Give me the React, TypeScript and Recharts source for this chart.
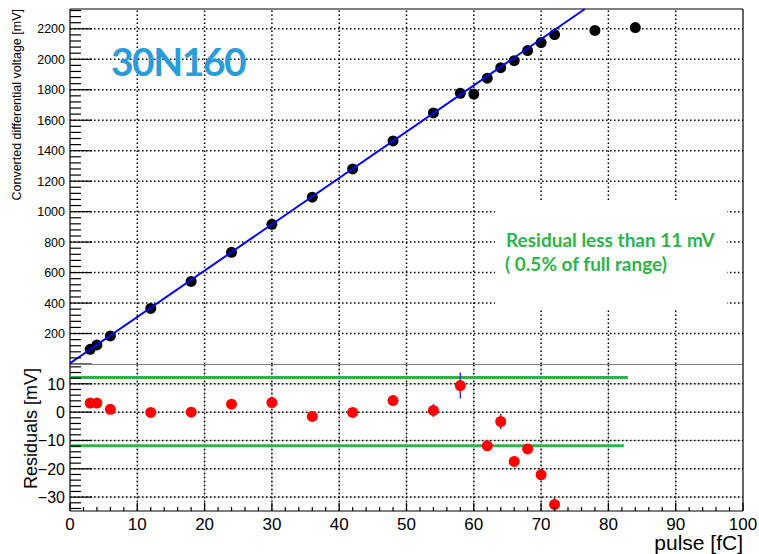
import React from 'react';
import { ScatterChart, Scatter, XAxis, YAxis, ReferenceLine } from 'recharts';

// calibration points (top panel)
const pulse = [3, 4, 6, 12, 18, 24, 30, 36, 42, 48, 54, 58, 60, 62, 64, 66, 68, 70, 72, 78, 84];
const voltage = [96, 125, 184, 365, 542, 733, 917, 1095, 1280, 1464, 1648, 1777, 1772, 1876, 1945, 1991, 2057, 2110, 2162, 2189, 2208];

// linear fit end points
const fitX = [0, 76.5];
const fitY = [5, 2330];

// residuals (bottom panel)
const resPulse = [3, 4, 6, 12, 18, 24, 30, 36, 42, 48, 54, 58, 62, 64, 66, 68, 70, 72];
const residual = [3.2, 3.2, 1.0, -0.1, 0.0, 2.8, 3.4, -1.5, -0.1, 4.1, 0.6, 9.4, -11.9, -3.3, -17.4, -13.0, -22.1, -32.6];
const resErr = [1, 1, 1, 1, 1, 1, 1, 1, 1, 1, 2.3, 4.6, 1.5, 2.7, 1.5, 1.5, 1.5, 2.3];

// +/- band lines
const bandUpper = [{ x: 0, y: 12.2 }, { x: 82.9, y: 12.2 }];
const bandLower = [{ x: 0, y: -11.9 }, { x: 82.3, y: -11.9 }];

const xMajor = [0, 10, 20, 30, 40, 50, 60, 70, 80, 90, 100];
const gridX = [10, 20, 30, 40, 50, 60, 70, 80, 90];
const topYMajor = [200, 400, 600, 800, 1000, 1200, 1400, 1600, 1800, 2000, 2200];
const resYMajor = [-30, -20, -10, 0, 10];

const TOP_MAX = 2330;
const RES_MIN = -34.6;
const RES_MAX = 17;

function steps(from: number, to: number, step: number) {
  const out: number[] = [];
  for (let v = from; v <= to; v += step) out.push(v);
  return out;
}

const xTicks = steps(0, 100, 2);
const topYTicks = steps(0, 2320, 40);
const resYTicks = steps(-34, 16, 2);

const topData = pulse.map((x, i) => ({ x, y: voltage[i] }));
const fitData = fitX.map((x, i) => ({ x, y: fitY[i] }));
const resData = resPulse.map((x, i) => ({ x, y: residual[i] }));

const FONT = '"Liberation Sans", Arial, sans-serif';
const fmt = (v: number) => (v < 0 ? `\u2212${-v}` : `${v}`);

const yTick = (major: number[], fontSize: number) => (props: any) => {
  const { x, y, payload } = props;
  const isMajor = major.includes(payload.value) || payload.value === 0;
  return (
    <g>
      <line x1={x} x2={x + (isMajor ? 22 : 11)} y1={y} y2={y} stroke="#000" strokeWidth={1.2} />
      {major.includes(payload.value) && (
        <text x={x - 5} y={y} dy="0.36em" textAnchor="end" fontSize={fontSize} fontFamily={FONT} fill="#000">
          {fmt(payload.value)}
        </text>
      )}
    </g>
  );
};

const xTick = (majorLen: number, minorLen: number, labels: boolean) => (props: any) => {
  const { x, y, payload } = props;
  const isMajor = xMajor.includes(payload.value);
  return (
    <g>
      <line x1={x} x2={x} y1={y} y2={y - (isMajor ? majorLen : minorLen)} stroke="#000" strokeWidth={1.2} />
      {labels && isMajor && (
        <text x={x} y={y + 19} textAnchor="middle" fontSize={17} fontFamily={FONT} fill="#000">
          {payload.value}
        </text>
      )}
    </g>
  );
};

const dot = (fill: string) => (p: any) => <circle cx={p.cx} cy={p.cy} r={5.5} fill={fill} />;
const noDot = () => <g />;

// dotted grid line style (plus a faint solid underlay for the lower pad)
const gridStyle = { stroke: '#000', strokeWidth: 1.5, strokeDasharray: '1.5 2.5', strokeOpacity: 1 };
const gridUnder = { stroke: '#c8c8c8', strokeWidth: 1 };

// a straight segment drawn as a two-point line series through the chart scales
const seg = (key: string, data: { x: number; y: number }[], line: any) => (
  <Scatter key={key} data={data} shape={noDot} line={line} isAnimationActive={false} />
);

const gridLines = (ys: number[], yMin: number, yMax: number, tag: string, style: any) => [
  ...gridX.map((v) => seg(`${tag}x${v}`, [{ x: v, y: yMin }, { x: v, y: yMax }], style)),
  ...ys.map((v) => seg(`${tag}y${v}`, [{ x: 0, y: v }, { x: 100, y: v }], style)),
];

export default function App() {
  return (
    <div style={{ position: 'absolute', left: 0, top: 0, width: 759, height: 554, background: '#fff' }}>
      <div style={{ position: 'absolute', left: 0, top: 0 }}>
        <ScatterChart width={759} height={364} margin={{ top: 9, right: 16, bottom: 0, left: 0 }}>
          <XAxis
            type="number"
            dataKey="x"
            domain={[0, 100]}
            ticks={xTicks}
            interval={0}
            height={0}
            tickSize={0}
            tickMargin={0}
            tickLine={false}
            axisLine={{ stroke: '#000', strokeWidth: 1.2 }}
            tick={xTick(11, 5, false)}
          />
          <YAxis
            type="number"
            dataKey="y"
            domain={[0, TOP_MAX]}
            ticks={topYTicks}
            interval={0}
            width={70}
            tickSize={0}
            tickMargin={0}
            tickLine={false}
            axisLine={{ stroke: '#000', strokeWidth: 1.2 }}
            tick={yTick(topYMajor, 12.5)}
          />
          {gridLines(topYMajor, 0, TOP_MAX, 't', gridStyle)}
          <ReferenceLine x={100} stroke="#000" strokeWidth={1.2} />
          <ReferenceLine y={TOP_MAX} stroke="#000" strokeWidth={1.2} />
          <Scatter data={topData} shape={dot('#000')} isAnimationActive={false} />
          <Scatter data={fitData} shape={noDot} line={{ stroke: '#0000ff', strokeWidth: 2 }} isAnimationActive={false} />
        </ScatterChart>
      </div>
      <div style={{ position: 'absolute', left: 0, top: 364 }}>
        <ScatterChart width={759} height={190} margin={{ top: 0, right: 16, bottom: 0, left: 0 }}>
          <XAxis
            type="number"
            dataKey="x"
            domain={[0, 100]}
            ticks={xTicks}
            interval={0}
            height={43}
            tickSize={0}
            tickMargin={0}
            tickLine={false}
            axisLine={{ stroke: '#000', strokeWidth: 1.2 }}
            tick={xTick(8, 4, true)}
          />
          <YAxis
            type="number"
            dataKey="y"
            domain={[RES_MIN, RES_MAX]}
            ticks={resYTicks}
            interval={0}
            width={70}
            tickSize={0}
            tickMargin={0}
            tickLine={false}
            axisLine={{ stroke: '#000', strokeWidth: 1.2 }}
            tick={yTick(resYMajor, 16)}
          />
          <ReferenceLine x={100} stroke="#000" strokeWidth={1.2} />
          <ReferenceLine y={RES_MAX} stroke="#000" strokeWidth={1.2} />
          {gridLines(resYMajor, RES_MIN, RES_MAX, 'ru', gridUnder)}
          {gridLines(resYMajor, RES_MIN, RES_MAX, 'r', gridStyle)}
          {seg('bandU', bandUpper, { stroke: '#2db34a', strokeWidth: 3 })}
          {seg('bandL', bandLower, { stroke: '#2db34a', strokeWidth: 3 })}
          {resPulse.map((x, i) =>
            seg(
              `err${x}`,
              [{ x, y: residual[i] - resErr[i] }, { x, y: residual[i] + resErr[i] }],
              { stroke: '#3333cc', strokeWidth: 1.5 },
            ),
          )}
          <Scatter data={resData} shape={dot('#ff0000')} isAnimationActive={false} />
        </ScatterChart>
      </div>
      <svg width={759} height={554} style={{ position: 'absolute', left: 0, top: 0, pointerEvents: 'none' }}>
        <text transform="translate(21,9) rotate(-90)" textAnchor="end" fontSize={12.5} fontFamily={FONT} fill="#000">
          Converted differential voltage [mV]
        </text>
        <text transform="translate(37,368) rotate(-90)" textAnchor="end" fontSize={18} fontFamily={FONT} fill="#000">
          Residuals [mV]
        </text>
        <text x={743} y={550} textAnchor="end" fontSize={21} fontFamily={FONT} fill="#000">
          pulse [fC]
        </text>
        <text x={111} y={76} fontSize={39} fontWeight="bold" letterSpacing={-1.5} fontFamily="Lato, sans-serif" fill="#2b9cd8">
          30N160
        </text>
        <rect x={495} y={201} width={232} height={108} fill="#fff" />
        <text x={506} y={247} fontSize={19} fontWeight="bold" fontFamily="Lato, sans-serif" fill="#2db34a">
          Residual less than 11 mV
        </text>
        <text x={505} y={271} fontSize={19} fontWeight="bold" fontFamily="Lato, sans-serif" fill="#2db34a">
          ( 0.5% of full range)
        </text>
      </svg>
    </div>
  );
}
